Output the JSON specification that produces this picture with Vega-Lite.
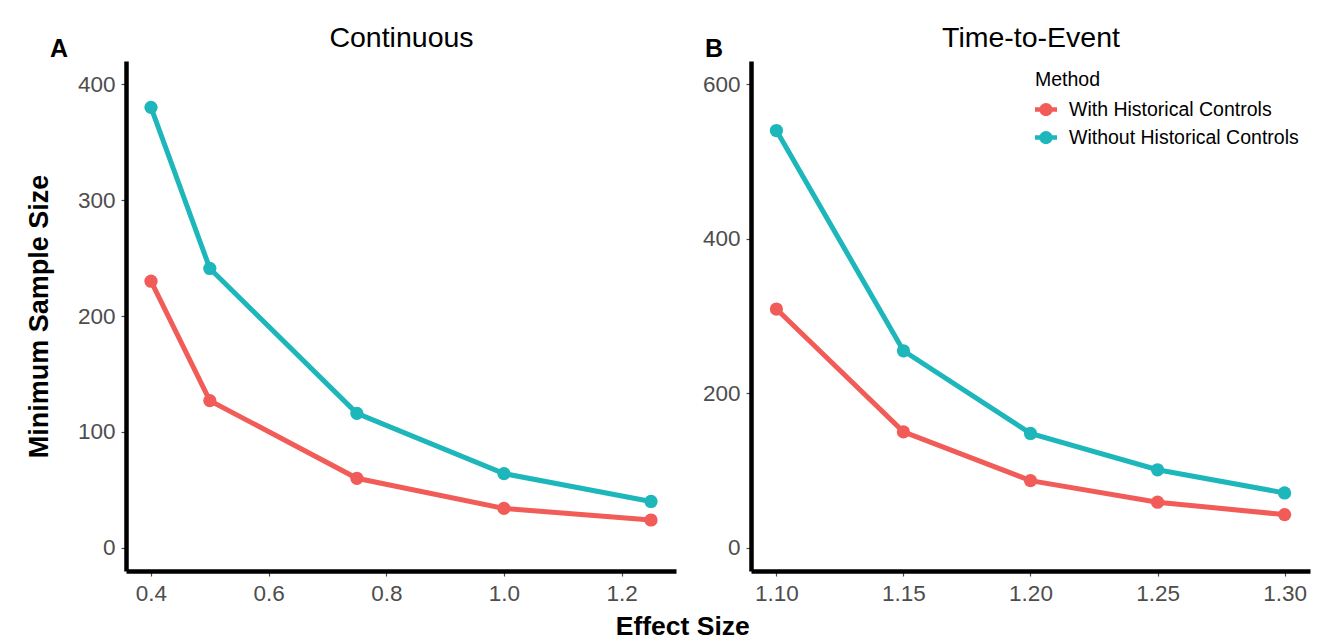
{
  "$schema": "https://vega.github.io/schema/vega-lite/v6.json",
  "background": "white",
  "padding": {"left": 25, "top": 23, "right": 10, "bottom": 2},
  "config": {
    "font": "Liberation Sans",
    "view": {"stroke": null},
    "axis": {
      "grid": false,
      "domainColor": "black",
      "domainWidth": 4.5,
      "tickColor": "#4d4d4d",
      "tickSize": 5,
      "tickWidth": 1.2,
      "labelFontSize": 22.5,
      "labelColor": "#4d4d4d",
      "labelPadding": 6,
      "titleColor": "black"
    },
    "legend": {
      "titleFontSize": 19.5,
      "titleFontWeight": "normal",
      "titleColor": "black",
      "labelFontSize": 19.5,
      "labelColor": "black",
      "labelLimit": 0
    }
  },
  "datasets": {
    "cont": [
      {"effect": 0.4, "method": "With Historical Controls", "n": 230},
      {"effect": 0.5, "method": "With Historical Controls", "n": 127},
      {"effect": 0.75, "method": "With Historical Controls", "n": 60},
      {"effect": 1.0, "method": "With Historical Controls", "n": 34},
      {"effect": 1.25, "method": "With Historical Controls", "n": 24},
      {"effect": 0.4, "method": "Without Historical Controls", "n": 380},
      {"effect": 0.5, "method": "Without Historical Controls", "n": 241},
      {"effect": 0.75, "method": "Without Historical Controls", "n": 116},
      {"effect": 1.0, "method": "Without Historical Controls", "n": 64},
      {"effect": 1.25, "method": "Without Historical Controls", "n": 40}
    ],
    "tte": [
      {"effect": 1.10, "method": "With Historical Controls", "n": 309},
      {"effect": 1.15, "method": "With Historical Controls", "n": 150},
      {"effect": 1.20, "method": "With Historical Controls", "n": 87},
      {"effect": 1.25, "method": "With Historical Controls", "n": 59},
      {"effect": 1.30, "method": "With Historical Controls", "n": 43},
      {"effect": 1.10, "method": "Without Historical Controls", "n": 540},
      {"effect": 1.15, "method": "Without Historical Controls", "n": 255},
      {"effect": 1.20, "method": "Without Historical Controls", "n": 148},
      {"effect": 1.25, "method": "Without Historical Controls", "n": 101},
      {"effect": 1.30, "method": "Without Historical Controls", "n": 71}
    ]
  },
  "title": {
    "text": "Effect Size",
    "orient": "bottom",
    "anchor": "middle",
    "fontSize": 26.5,
    "fontWeight": "bold",
    "color": "black",
    "offset": 9,
    "dx": 15
  },
  "spacing": 26,
  "resolve": {"scale": {"color": "shared"}},
  "hconcat": [
    {
      "width": 550,
      "height": 510,
      "title": {"text": "A", "anchor": "start", "frame": "group", "fontSize": 25, "fontWeight": "bold", "color": "black", "dx": -76, "offset": -39},
      "data": {"name": "cont"},
      "resolve": {"axis": {"x": "independent"}},
      "layer": [
        {
          "mark": {"type": "line", "strokeWidth": 5},
          "encoding": {
            "x": {"field": "effect", "type": "quantitative", "scale": {"domain": [0.3575, 1.2925], "nice": false, "zero": false},
                  "axis": {"orient": "bottom", "values": [0.4, 0.6, 0.8, 1.0, 1.2], "format": ".1f", "title": null}},
            "y": {"field": "n", "type": "quantitative", "scale": {"domain": [-20, 420], "nice": false, "zero": false},
                  "axis": {"values": [0, 100, 200, 300, 400], "title": "Minimum Sample Size", "titleFontSize": 27, "titleFontWeight": "bold", "titlePadding": 24}},
            "color": {"field": "method", "type": "nominal", "title": "Method",
                      "scale": {"domain": ["With Historical Controls", "Without Historical Controls"], "range": ["#f15c58", "#1db6ba"]}}
          }
        },
        {
          "mark": {"type": "circle", "size": 175, "opacity": 1},
          "encoding": {
            "x": {"field": "effect", "type": "quantitative", "axis": {"orient": "top", "title": "Continuous", "titleFontSize": 28.5, "titleFontWeight": "normal", "labels": false, "ticks": false, "domain": false, "titlePadding": 9}},
            "y": {"field": "n", "type": "quantitative"},
            "color": {"field": "method", "type": "nominal"}
          }
        }
      ]
    },
    {
      "width": 559,
      "height": 510,
      "title": {"text": "B", "anchor": "start", "frame": "group", "fontSize": 25, "fontWeight": "bold", "color": "black", "dx": -46, "offset": -39},
      "data": {"name": "tte"},
      "resolve": {"axis": {"x": "independent"}},
      "layer": [
        {
          "mark": {"type": "line", "strokeWidth": 5},
          "encoding": {
            "x": {"field": "effect", "type": "quantitative", "scale": {"domain": [1.09, 1.31], "nice": false, "zero": false},
                  "axis": {"orient": "bottom", "values": [1.10, 1.15, 1.20, 1.25, 1.30], "format": ".2f", "title": null}},
            "y": {"field": "n", "type": "quantitative", "scale": {"domain": [-30, 630], "nice": false, "zero": false},
                  "axis": {"values": [0, 200, 400, 600], "title": null}},
            "color": {"field": "method", "type": "nominal", "title": "Method",
                      "legend": {"orient": "none", "legendX": 909, "legendY": 10, "symbolType": "M-1,-0.2H1V0.2H-1Z M0.6,0A0.6,0.6 0 1,1 -0.6,0A0.6,0.6 0 1,1 0.6,0Z", "symbolSize": 484, "symbolStrokeWidth": 0, "rowPadding": 7, "titlePadding": 8, "labelOffset": 12}}
          }
        },
        {
          "mark": {"type": "circle", "size": 175, "opacity": 1},
          "encoding": {
            "x": {"field": "effect", "type": "quantitative", "axis": {"orient": "top", "title": "Time-to-Event", "titleFontSize": 28.5, "titleFontWeight": "normal", "labels": false, "ticks": false, "domain": false, "titlePadding": 9}},
            "y": {"field": "n", "type": "quantitative"},
            "color": {"field": "method", "type": "nominal"}
          }
        }
      ]
    }
  ]
}
